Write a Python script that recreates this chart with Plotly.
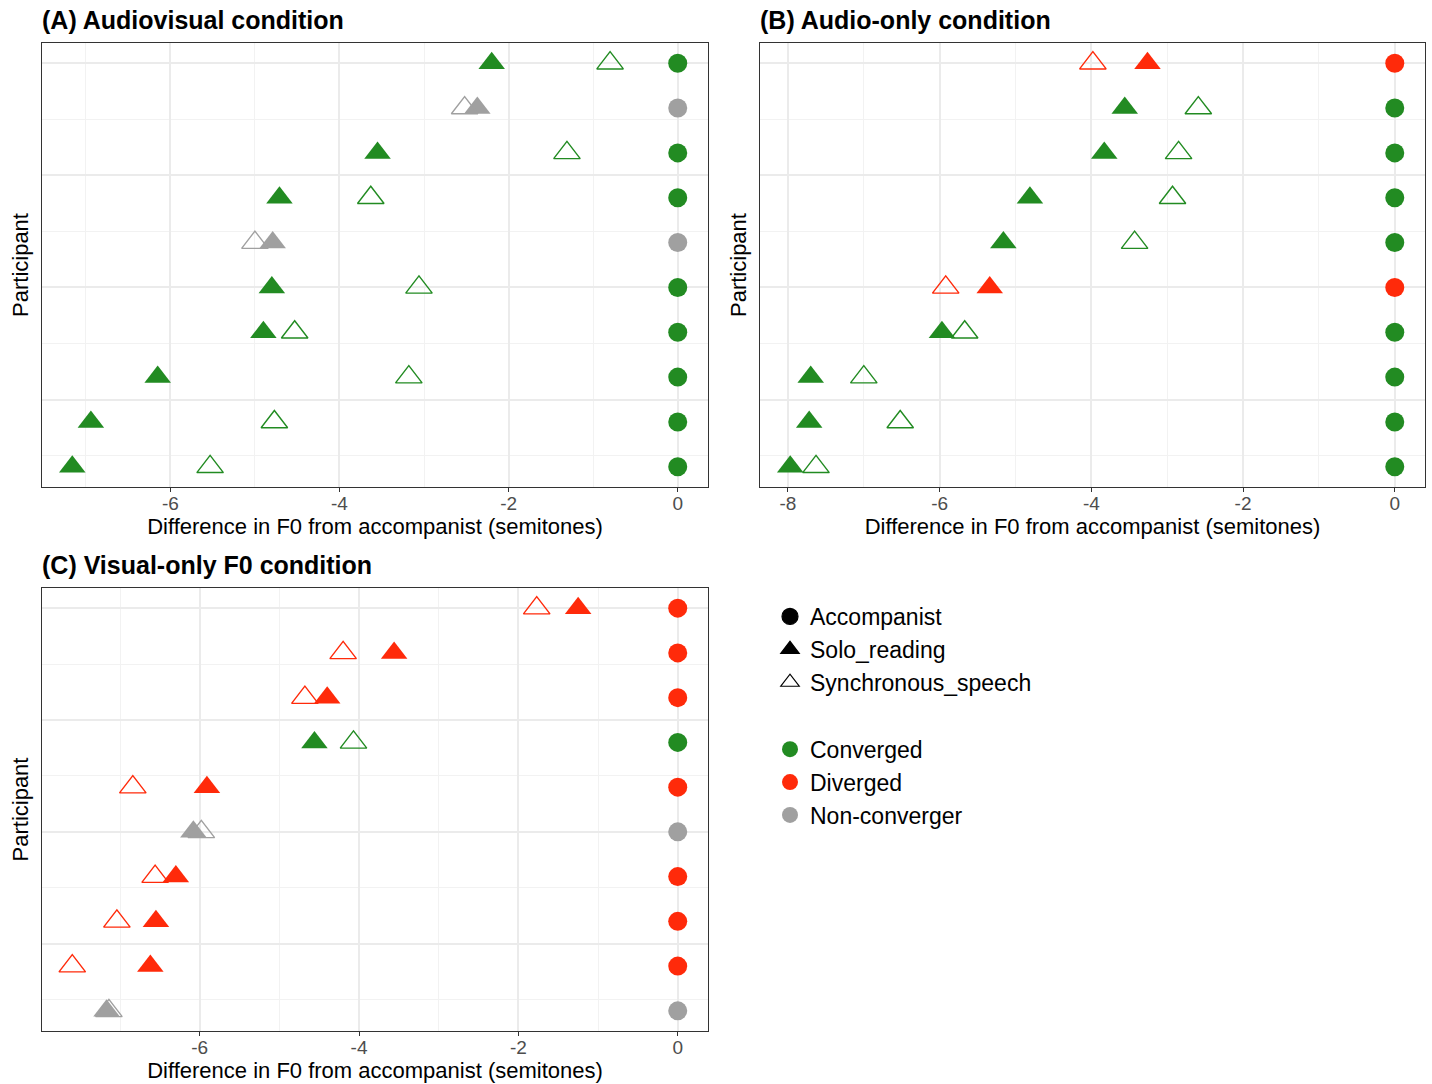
import math
import plotly.graph_objects as go

# Participants are plotted bottom (1) to top (10)
participants = list(range(1, 11))

# (A) Audiovisual condition: F0 difference from accompanist (semitones)
av_solo = [-7.16, -6.94, -6.15, -4.90, -4.80, -4.79, -4.71, -3.55, -2.37, -2.20]
av_sync = [-5.53, -4.77, -3.18, -4.53, -3.06, -5.00, -3.63, -1.31, -2.52, -0.80]
av_status = ["Converged", "Converged", "Converged", "Converged", "Converged",
             "Non-converger", "Converged", "Converged", "Non-converger", "Converged"]

# (B) Audio-only condition
ao_solo = [-7.97, -7.72, -7.70, -5.97, -5.34, -5.16, -4.81, -3.83, -3.56, -3.26]
ao_sync = [-7.63, -6.52, -7.00, -5.67, -5.92, -3.43, -2.93, -2.85, -2.59, -3.98]
ao_status = ["Converged", "Converged", "Converged", "Converged", "Diverged",
             "Converged", "Converged", "Converged", "Converged", "Diverged"]

# (C) Visual-only F0 condition
vo_solo = [-7.17, -6.62, -6.55, -6.30, -6.08, -5.91, -4.56, -4.40, -3.56, -1.25]
vo_sync = [-7.14, -7.60, -7.04, -6.56, -5.98, -6.84, -4.07, -4.68, -4.20, -1.77]
vo_status = ["Non-converger", "Diverged", "Diverged", "Diverged", "Non-converger",
             "Diverged", "Converged", "Diverged", "Diverged", "Diverged"]

# Accompanist reference is zero by definition
accompanist = [0.0] * len(participants)

titles = ["(A) Audiovisual condition", "(B) Audio-only condition", "(C) Visual-only F0 condition"]
type_labels = ["Accompanist", "Solo_reading", "Synchronous_speech"]
status_labels = ["Converged", "Diverged", "Non-converger"]

STATUS_COLOURS = {"Converged": "#228B22", "Diverged": "#FF2A0A", "Non-converger": "#A0A0A0"}

FONT = "Liberation Sans, Arial, Helvetica, sans-serif"
W, H = 1432, 1084

# panel placement in pixels: (left, right, top, bottom)
panel_px = [(42, 708, 43, 487), (760, 1425, 43, 487), (42, 708, 588, 1031)]

panels = [
    (titles[0], av_solo, av_sync, av_status),
    (titles[1], ao_solo, ao_sync, ao_status),
    (titles[2], vo_solo, vo_sync, vo_status),
]

fig = go.Figure()
layout_axes = {}
annotations = []

for i, ((title, solo, sync, status), (l, r, t, b)) in enumerate(zip(panels, panel_px)):
    suffix = "" if i == 0 else str(i + 1)
    xa, ya = "x" + suffix, "y" + suffix
    cols = [STATUS_COLOURS[s] for s in status]

    fig.add_trace(go.Scatter(
        x=accompanist, y=participants, mode="markers", xaxis=xa, yaxis=ya,
        marker=dict(symbol="circle", size=19, color=cols, line=dict(width=0)),
        showlegend=False, hoverinfo="skip"))
    fig.add_trace(go.Scatter(
        x=solo, y=participants, mode="markers", xaxis=xa, yaxis=ya,
        marker=dict(symbol="triangle-up", size=23, color=cols, line=dict(width=0)),
        showlegend=False, hoverinfo="skip"))
    fig.add_trace(go.Scatter(
        x=sync, y=participants, mode="markers", xaxis=xa, yaxis=ya,
        marker=dict(symbol="triangle-up-open", size=23, color=cols,
                    line=dict(width=1.4, color=cols)),
        showlegend=False, hoverinfo="skip"))

    # continuous scale with 5% expansion on each side
    lo = min(min(solo), min(sync), 0.0)
    hi = max(max(solo), max(sync), 0.0)
    pad = 0.05 * (hi - lo)
    ny = len(participants)
    ypad = 0.05 * (ny - 1)

    # even-numbered breaks, labelled with a plain hyphen-minus
    tickvals = list(range(2 * math.ceil((lo - pad) / 2), int(hi + pad) + 1, 2))
    ticktext = ["%d" % v for v in tickvals]

    dom_x = [l / W, r / W]
    dom_y = [1 - b / H, 1 - t / H]

    layout_axes["xaxis" + suffix] = dict(
        domain=dom_x, anchor=ya, range=[lo - pad, hi + pad],
        tickmode="array", tickvals=tickvals, ticktext=ticktext,
        showgrid=True, gridcolor="#EBEBEB", gridwidth=1.5,
        minor=dict(tickmode="linear", tick0=0, dtick=1, showgrid=True,
                   gridcolor="#F2F2F2", gridwidth=0.8),
        showline=True, linecolor="#333333", linewidth=1, mirror=True,
        ticks="outside", ticklen=4, tickcolor="#333333", tickwidth=1,
        ticklabelstandoff=-5,
        tickfont=dict(family=FONT, size=19, color="#4D4D4D"),
        zeroline=False,
        title=dict(text="Difference in F0 from accompanist (semitones)",
                   font=dict(family=FONT, size=22, color="#000000"), standoff=4),
    )
    layout_axes["yaxis" + suffix] = dict(
        domain=dom_y, anchor=xa, range=[1 - ypad, ny + ypad],
        tickmode="linear", tick0=0, dtick=2.5,
        showgrid=True, gridcolor="#EBEBEB", gridwidth=1.5,
        minor=dict(tickmode="linear", tick0=0, dtick=1.25, showgrid=True,
                   gridcolor="#F2F2F2", gridwidth=0.8),
        showticklabels=False, ticks="",
        showline=True, linecolor="#333333", linewidth=1, mirror=True,
        zeroline=False,
        title=dict(text="Participant",
                   font=dict(family=FONT, size=22, color="#000000"), standoff=6),
    )

    annotations.append(dict(
        text="<b>%s</b>" % title, x=(l - 2) / W, y=1 - (t - 23) / H,
        xref="paper", yref="paper", xanchor="left", yanchor="middle",
        showarrow=False, font=dict(family=FONT, size=25, color="#000000")))

# legend entries: point type (shape) and convergence status (colour)
legend_shapes = {"Accompanist": "circle", "Solo_reading": "triangle-up",
                 "Synchronous_speech": "triangle-up-open"}
for name in type_labels:
    fig.add_trace(go.Scatter(
        x=[None], y=[None], mode="markers", name=name, legendgroup="type",
        marker=dict(symbol=legend_shapes[name], size=16, color="#000000",
                    line=dict(width=1.2, color="#000000"))))
for name in status_labels:
    fig.add_trace(go.Scatter(
        x=[None], y=[None], mode="markers", name=name, legendgroup="status",
        marker=dict(symbol="circle", size=16, color=STATUS_COLOURS[name])))

fig.update_layout(
    width=W, height=H, margin=dict(l=0, r=0, t=0, b=0),
    paper_bgcolor="white", plot_bgcolor="white",
    font=dict(family=FONT, color="#000000"),
    showlegend=True,
    legend=dict(x=770 / W, y=1 - 595 / H, xanchor="left", yanchor="top",
                traceorder="grouped", tracegroupgap=34,
                font=dict(family=FONT, size=23, color="#000000"),
                bgcolor="rgba(0,0,0,0)", borderwidth=0),
    annotations=annotations,
    **layout_axes,
)

fig.write_html("out.html")
